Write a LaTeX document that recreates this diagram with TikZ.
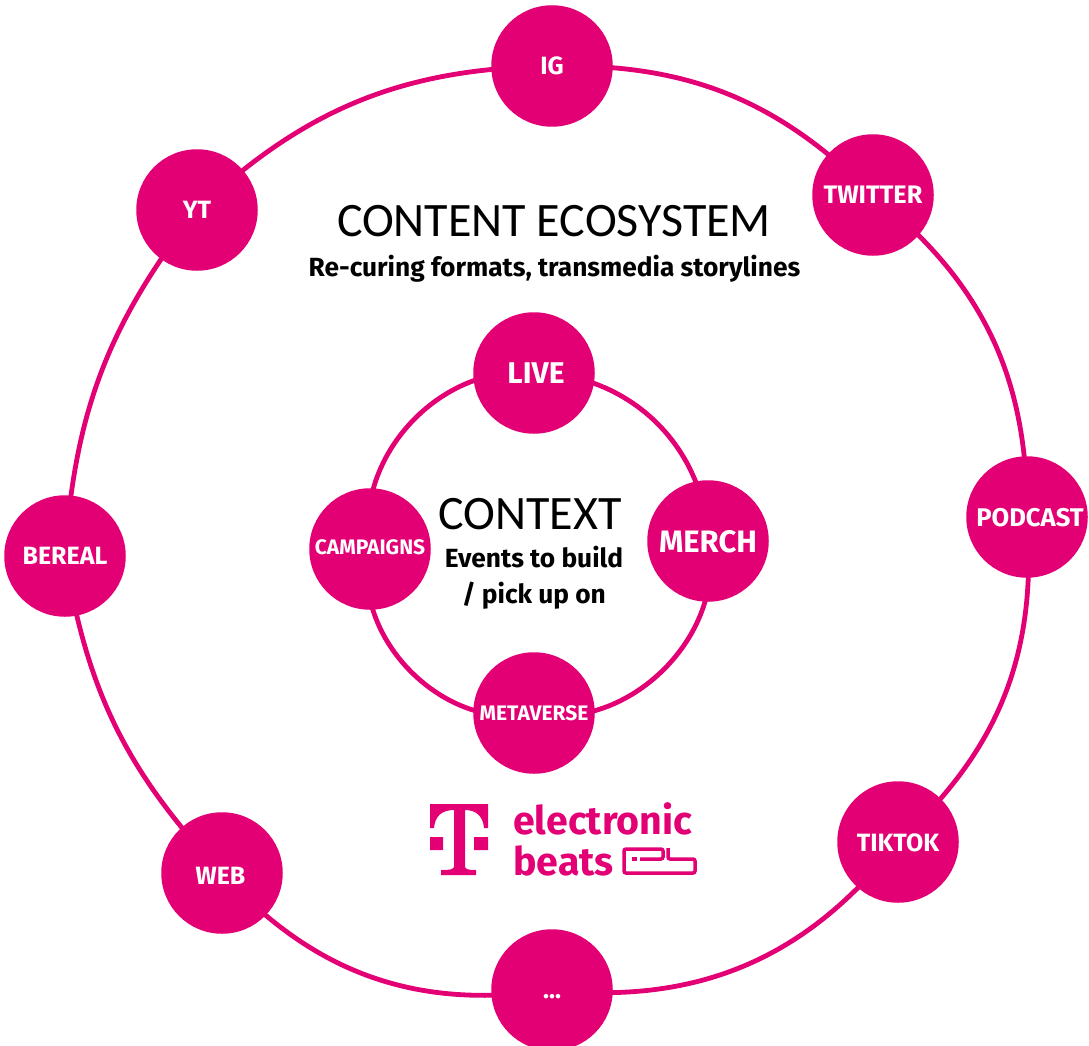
\documentclass[tikz,border=0pt]{standalone}
\usepackage{fontspec}
\setmainfont{Fira Sans}
\newfontfamily\titlefont{Carlito}
\definecolor{tpink}{RGB}{226,0,116}
\newcommand{\hublab}[2]{\raisebox{\dimexpr-#1pt-0.345em\relax}[0pt][0pt]{#2}}
\tikzset{
 hub/.style={circle,fill=tpink,minimum size=121.5pt,inner sep=0pt,text=white,font=\bfseries\fontsize{25}{27}\selectfont},
 ring/.style={draw=tpink,line width=4.8pt},
 title/.style={font=\titlefont\fontsize{48}{52}\selectfont,text=black,inner sep=0pt},
 sub/.style={font=\bfseries\fontsize{26.3}{36}\selectfont,text=black,inner sep=0pt,align=center}
}
\begin{document}
\begin{tikzpicture}[x=1pt,y=-1pt]
\useasboundingbox (0,0) rectangle (1089,1046);
\coordinate (igc) at (552,66);
\coordinate (twc) at (873,195);
\coordinate (poc) at (1027,517);
\coordinate (tic) at (898,842);
\coordinate (doc) at (552,990);
\coordinate (wec) at (222,873);
\coordinate (bec) at (65,556);
\coordinate (ytc) at (197,210);
\coordinate (lic) at (534,373);
\coordinate (mec) at (708,541);
\coordinate (mvc) at (534,713);
\coordinate (cac) at (370,549);
\draw[ring] (igc) to[bend left=23] (twc);
\draw[ring] (twc) to[bend left=26] (poc);
\draw[ring] (poc) to[bend left=26] (tic);
\draw[ring] (tic) to[bend left=29] (doc);
\draw[ring] (doc) to[bend left=28] (wec);
\draw[ring] (wec) to[bend left=17] (bec);
\draw[ring] (bec) to[bend left=17] (ytc);
\draw[ring] (ytc) to[bend left=21] (igc);
\draw[ring] (lic) to[bend left=44] (mec);
\draw[ring] (mec) to[bend left=57] (mvc);
\draw[ring] (mvc) to[bend left=58] (cac);
\draw[ring] (cac) to[bend left=53] (lic);
\node[hub] (ig) at (igc) {\hublab{0}{IG}};
\node[hub,font=\bfseries\fontsize{25.3}{27}\selectfont] (tw) at (twc) {\hublab{0}{TWITTER}};
\node[hub,font=\bfseries\fontsize{25.6}{27}\selectfont] (po) at (poc) {\hspace{6pt}\hublab{1}{PODCAST}};
\node[hub] (ti) at (tic) {\hublab{1}{TIKTOK}};
\node[hub] (dots) at (doc) {\hublab{0}{...}};
\node[hub] (we) at (wec) {\hspace{-3pt}\hublab{3}{WEB}};
\node[hub] (be) at (bec) {\hublab{0}{BEREAL}};
\node[hub] (yt) at (ytc) {\hublab{0}{YT}};
\node[hub,font=\bfseries\fontsize{30}{32}\selectfont] (li) at (lic) {\hspace{4pt}\hublab{0}{LIVE}};
\node[hub,font=\bfseries\fontsize{31}{33}\selectfont] (me) at (mec) {\hublab{1}{MERCH}};
\node[hub,font=\bfseries\fontsize{21}{23}\selectfont] (mv) at (mvc) {\hublab{0}{METAVERSE}};
\node[hub,font=\bfseries\fontsize{21}{23}\selectfont] (ca) at (cac) {\hublab{-2}{CAMPAIGNS}};
\node[title] (t1) at (554,221) {CONTENT ECOSYSTEM};
\node[sub] (s1) at (554.5,268.5) {Re-curing formats, transmedia storylines};
\node[title] (t2) at (530,514) {CONTEXT};
\node[sub] (s2) at (534,578) {Events to build\\/ pick up on};
% logo
\fill[tpink] (430,804) -- (488,804) -- (488,828) -- (484,828)
 .. controls (483,816) and (476,810) .. (465,810) -- (465,866) .. controls (465,869) and (467,870) .. (476,870)
 -- (476,875) -- (441,875) -- (441,870) .. controls (452,870) and (454,869) .. (454,866) -- (454,810)
 .. controls (442,810) and (435,816) .. (434,828) -- (430,828) -- cycle;
\fill[tpink] (430,837) rectangle (443,850) (474,837) rectangle (488,850);
\node[font=\bfseries\fontsize{39.3}{42}\selectfont,text=tpink,anchor=base west,inner sep=0pt] (l1) at (513,834) {electronic};
\node[font=\bfseries\fontsize{39.3}{42}\selectfont,text=tpink,anchor=base west,inner sep=0pt] (l2) at (513,875) {beats};
\draw[tpink,line width=3.5pt,rounded corners=2pt] (640,859) -- (663,859) -- (663,849) -- (624,849) -- (624,873) -- (695,873) -- (695,859) -- (668,859) -- (668,848);
\fill[tpink] (632,857) rectangle (636.5,861);
\end{tikzpicture}
\end{document}
